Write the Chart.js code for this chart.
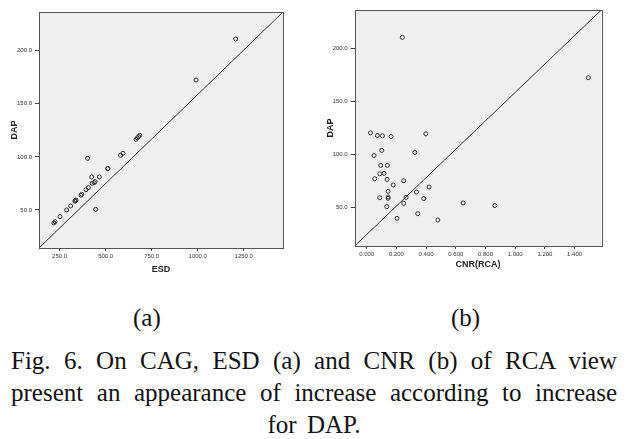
<!DOCTYPE html>
<html>
<head>
<meta charset="utf-8">
<script src="https://cdn.jsdelivr.net/npm/chart.js@4/dist/chart.umd.min.js"></script>
<style>
  body { margin: 0; background: #fff; }
  #page { position: relative; width: 628px; height: 439px; overflow: hidden; }
  canvas { position: absolute; top: 0; }
  .cap { position: absolute; font-family: "Liberation Serif", "Times New Roman", serif; font-size: 25px; color: #111; line-height: 28px; }
  .fig { position: absolute; left: 11px; width: 606px; top: 345px; font-family: "Liberation Serif", "Times New Roman", serif; font-size: 25px; line-height: 32px; color: #111; }
  .fig div { text-align: justify; text-align-last: justify; }
  .fig div.last { text-align: center; text-align-last: center; word-spacing: 4px; }
</style>
</head>
<body>
<div id="page">
  <canvas id="chartA" width="314" height="290" style="left:0"></canvas>
  <canvas id="chartB" width="314" height="290" style="left:314px"></canvas>
  <div class="cap" style="left:133px; top:304px;">(a)</div>
  <div class="cap" style="left:451px; top:304px;">(b)</div>
  <div class="fig">
    <div>Fig. 6. On CAG, ESD (a) and CNR (b) of RCA view</div>
    <div>present an appearance of increase according to increase</div>
    <div class="last">for DAP.</div>
  </div>
</div>
<script>
// panel (a): ESD vs DAP
const esdValues = [1206, 991, 665, 672, 679, 685, 581, 594, 402, 511, 513, 424, 466, 442, 438, 427, 406, 393, 370, 366, 339, 335, 333, 310, 288, 252, 225, 219, 446];
const esdDap = [211.0, 172.4, 116.5, 117.8, 119.0, 120.3, 101.5, 103.4, 98.6, 88.9, 89.1, 81.1, 81.1, 76.7, 75.7, 75.1, 71.0, 69.1, 64.8, 63.8, 59.4, 58.8, 58.2, 53.8, 50.0, 43.7, 39.0, 37.8, 50.6];

// panel (b): CNR(RCA) vs DAP
const cnrValues = [0.240, 1.492, 0.025, 0.072, 0.106, 0.164, 0.398, 0.101, 0.324, 0.049, 0.094, 0.139, 0.088, 0.117, 0.054, 0.137, 0.178, 0.249, 0.420, 0.144, 0.335, 0.088, 0.144, 0.144, 0.265, 0.384, 0.249, 0.649, 0.863, 0.135, 0.344, 0.204, 0.479];
const cnrDap = [210.7, 172.6, 120.4, 117.9, 117.6, 117.0, 119.5, 103.8, 101.9, 99.0, 89.6, 89.6, 81.7, 82.1, 77.0, 76.4, 71.1, 75.1, 69.2, 65.1, 64.4, 59.1, 59.7, 58.5, 59.4, 58.2, 53.8, 54.1, 51.6, 50.6, 44.0, 39.6, 38.0];

const esdTicks = [250, 500, 750, 1000, 1250];
const cnrTicks = [0, 0.2, 0.4, 0.6, 0.8, 1.0, 1.2, 1.4];
const dapTicks = [50, 100, 150, 200];

const esdRange = [138, 1463];
const dapRangeA = [14.2, 236.4];
const cnrRange = [-0.081, 1.58];
const dapRangeB = [13.4, 236.6];

const plotBg = {
  id: 'plotBg',
  beforeDraw(chart) {
    const a = chart.chartArea, ctx = chart.ctx;
    ctx.save();
    ctx.fillStyle = '#efefef';
    ctx.fillRect(a.left, a.top, a.right - a.left, a.bottom - a.top);
    ctx.restore();
  },
  afterDatasetsDraw(chart) {
    const a = chart.chartArea, ctx = chart.ctx;
    ctx.save();
    ctx.strokeStyle = '#555';
    ctx.lineWidth = 1;
    ctx.strokeRect(Math.round(a.left) + 0.5, Math.round(a.top) + 0.5, Math.round(a.right - a.left), Math.round(a.bottom - a.top));
    ctx.restore();
  }
};

function makeChart(id, xs, ys, xRange, yRange, xTicks, xTitle, xDigits, box) {
  const pts = xs.map((x, i) => ({ x: x, y: ys[i] }));
  const tickFont = { family: 'Liberation Sans, Arial, sans-serif', size: 6 };
  const titleFont = { family: 'Liberation Sans, Arial, sans-serif', size: 9, weight: 'bold' };
  return new Chart(document.getElementById(id), {
    type: 'scatter',
    data: {
      datasets: [
        {
          data: pts,
          pointStyle: 'circle',
          pointRadius: 2,
          backgroundColor: 'rgba(0,0,0,0)',
          borderColor: '#333',
          borderWidth: 1
        },
        {
          type: 'line',
          data: [{ x: xRange[0], y: yRange[0] }, { x: xRange[1], y: yRange[1] }],
          borderColor: '#333',
          borderWidth: 1,
          pointRadius: 0,
          fill: false
        }
      ]
    },
    options: {
      responsive: false,
      animation: false,
      devicePixelRatio: 1,
      layout: { padding: { top: box.top, right: box.right, left: 0, bottom: 0 } },
      plugins: { legend: { display: false }, tooltip: { enabled: false } },
      scales: {
        x: {
          type: 'linear',
          min: xRange[0],
          max: xRange[1],
          afterBuildTicks: s => { s.ticks = xTicks.map(v => ({ value: v })); },
          afterFit: s => { s.height = box.xh; },
          ticks: { font: tickFont, color: '#333', padding: 2, maxRotation: 0, callback: v => Number(v).toFixed(xDigits) },
          grid: { drawOnChartArea: false, tickLength: 3, color: '#444' },
          border: { display: false },
          title: { display: true, text: xTitle, font: titleFont, color: '#222', padding: { top: 0, bottom: box.xtp } }
        },
        y: {
          type: 'linear',
          min: yRange[0],
          max: yRange[1],
          afterBuildTicks: s => { s.ticks = dapTicks.map(v => ({ value: v })); },
          afterFit: s => { s.width = box.yw; },
          ticks: { font: tickFont, color: '#333', padding: 3, callback: v => Number(v).toFixed(1) },
          grid: { drawOnChartArea: false, tickLength: 4, color: '#444' },
          border: { display: false },
          title: { display: true, text: 'DAP', font: titleFont, color: '#222', padding: { top: box.ytp, bottom: 0 } }
        }
      }
    },
    plugins: [plotBg]
  });
}

makeChart('chartA', esdValues, esdDap, esdRange, dapRangeA, esdTicks, 'ESD', 1,
  { top: 12, right: 31, yw: 39, xh: 42, xtp: 14.6, ytp: 9.6 });
makeChart('chartB', cnrValues, cnrDap, cnrRange, dapRangeB, cnrTicks, 'CNR(RCA)', 3,
  { top: 10, right: 26.7, yw: 40.7, xh: 44, xtp: 19.6, ytp: 11.6 });
</script>
</body>
</html>
